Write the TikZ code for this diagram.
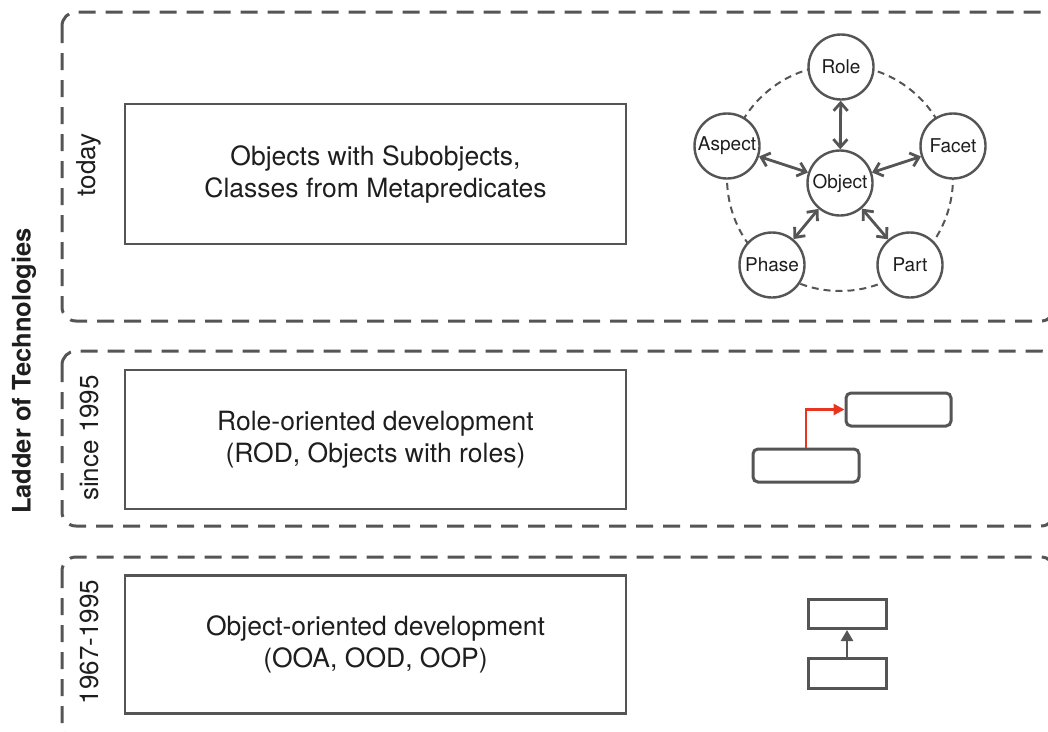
\documentclass[tikz,border=0pt]{standalone}
\usepackage{fontspec}
\setmainfont{TeX Gyre Heros}
\usetikzlibrary{arrows.meta}
\definecolor{linegray}{HTML}{555555}
\definecolor{inkgray}{HTML}{1E1E1E}
\definecolor{rodred}{HTML}{E8351F}

\begin{document}
\begin{tikzpicture}[x=1pt,y=-1pt,
  era/.style={draw=linegray, line width=3pt, dash pattern=on 17pt off 10pt, rounded corners=14pt},
  techbox/.style={draw=linegray, line width=2.8pt, fill=white, text=inkgray,
    font=\fontsize{26.5}{32}\selectfont, align=center, inner sep=0pt,
    minimum width=501pt},
  eralabel/.style={rotate=90, text=inkgray, font=\fontsize{26}{30}\selectfont, inner sep=0pt},
  concept/.style={circle, draw=linegray, line width=2.4pt, fill=white, minimum size=65pt,
    inner sep=0pt, text=inkgray, font=\fontsize{19}{22}\selectfont},
  ring/.style={draw=linegray, line width=2pt, dash pattern=on 7pt off 5pt},
  link/.style={draw=linegray, line width=2.8pt,
    {Straight Barb[length=8pt,width=14pt]}-{Straight Barb[length=8pt,width=14pt]}},
  icon/.style={draw=linegray, line width=3pt, fill=white, inner sep=0pt},
]
\clip (0,0) rectangle (1048,731);
\fill[white] (0,0) rectangle (1048,731);

% era frames
\draw[era] (62,12) rectangle (1055,321);
\draw[era] (62,351) rectangle (1055,526);
\draw[era] (62,557) rectangle (1055,740);

% title and era labels
\node[rotate=90, text=inkgray, font=\fontsize{25.5}{30}\selectfont\bfseries, inner sep=0pt]
  (title) at (24,371) {Ladder of Technologies};
\node[eralabel] (today) at (89,165) {today};
\node[eralabel] (since) at (89,438) {since 1995};
\node[eralabel] (early) at (89,642) {1967-1995};

% technology boxes
\node[techbox, minimum height=140pt] (meta) at (375.5,174)
  {Objects with Subobjects,\\Classes from Metapredicates};
\node[techbox, minimum height=139pt] (rod) at (375.5,439.5)
  {Role-oriented development\\(ROD, Objects with roles)};
\node[techbox, minimum height=138pt] (ood) at (375.5,644.5)
  {Object-oriented development\\(OOA, OOD, OOP)};

% object with its facets
\draw[ring] (840,178) circle (113pt);
\node[concept] (role)   at (841,67)  {Role};
\node[concept] (aspect) at (727,146) {Aspect};
\node[concept] (facet)  at (953,146) {Facet};
\node[concept] (phase)  at (772,265) {Phase};
\node[concept] (part)   at (910,265) {Part};
\node[concept] (object) at (840,183) {Object};
\foreach \n in {role,aspect,facet,phase,part}
  \draw[link] (object) -- (\n);

% role-oriented icon
\node[icon, rounded corners=5pt, minimum width=106pt, minimum height=33pt] (player) at (806,465.5) {};
\node[icon, rounded corners=5pt, minimum width=105pt, minimum height=33pt] (rolebox) at (898.5,409.5) {};
\draw[rodred, line width=2.5pt, -{Triangle[length=11pt,width=11pt]}]
  (player.north) |- (rolebox.west);

% object-oriented icon
\node[icon, minimum width=78pt, minimum height=30pt] (sub) at (847,673.5) {};
\node[icon, minimum width=78pt, minimum height=29pt] (super) at (847,614) {};
\draw[linegray, line width=2.5pt, -{Triangle[length=11pt,width=12pt]}]
  (sub.north) -- (super.south);
\end{tikzpicture}
\end{document}
